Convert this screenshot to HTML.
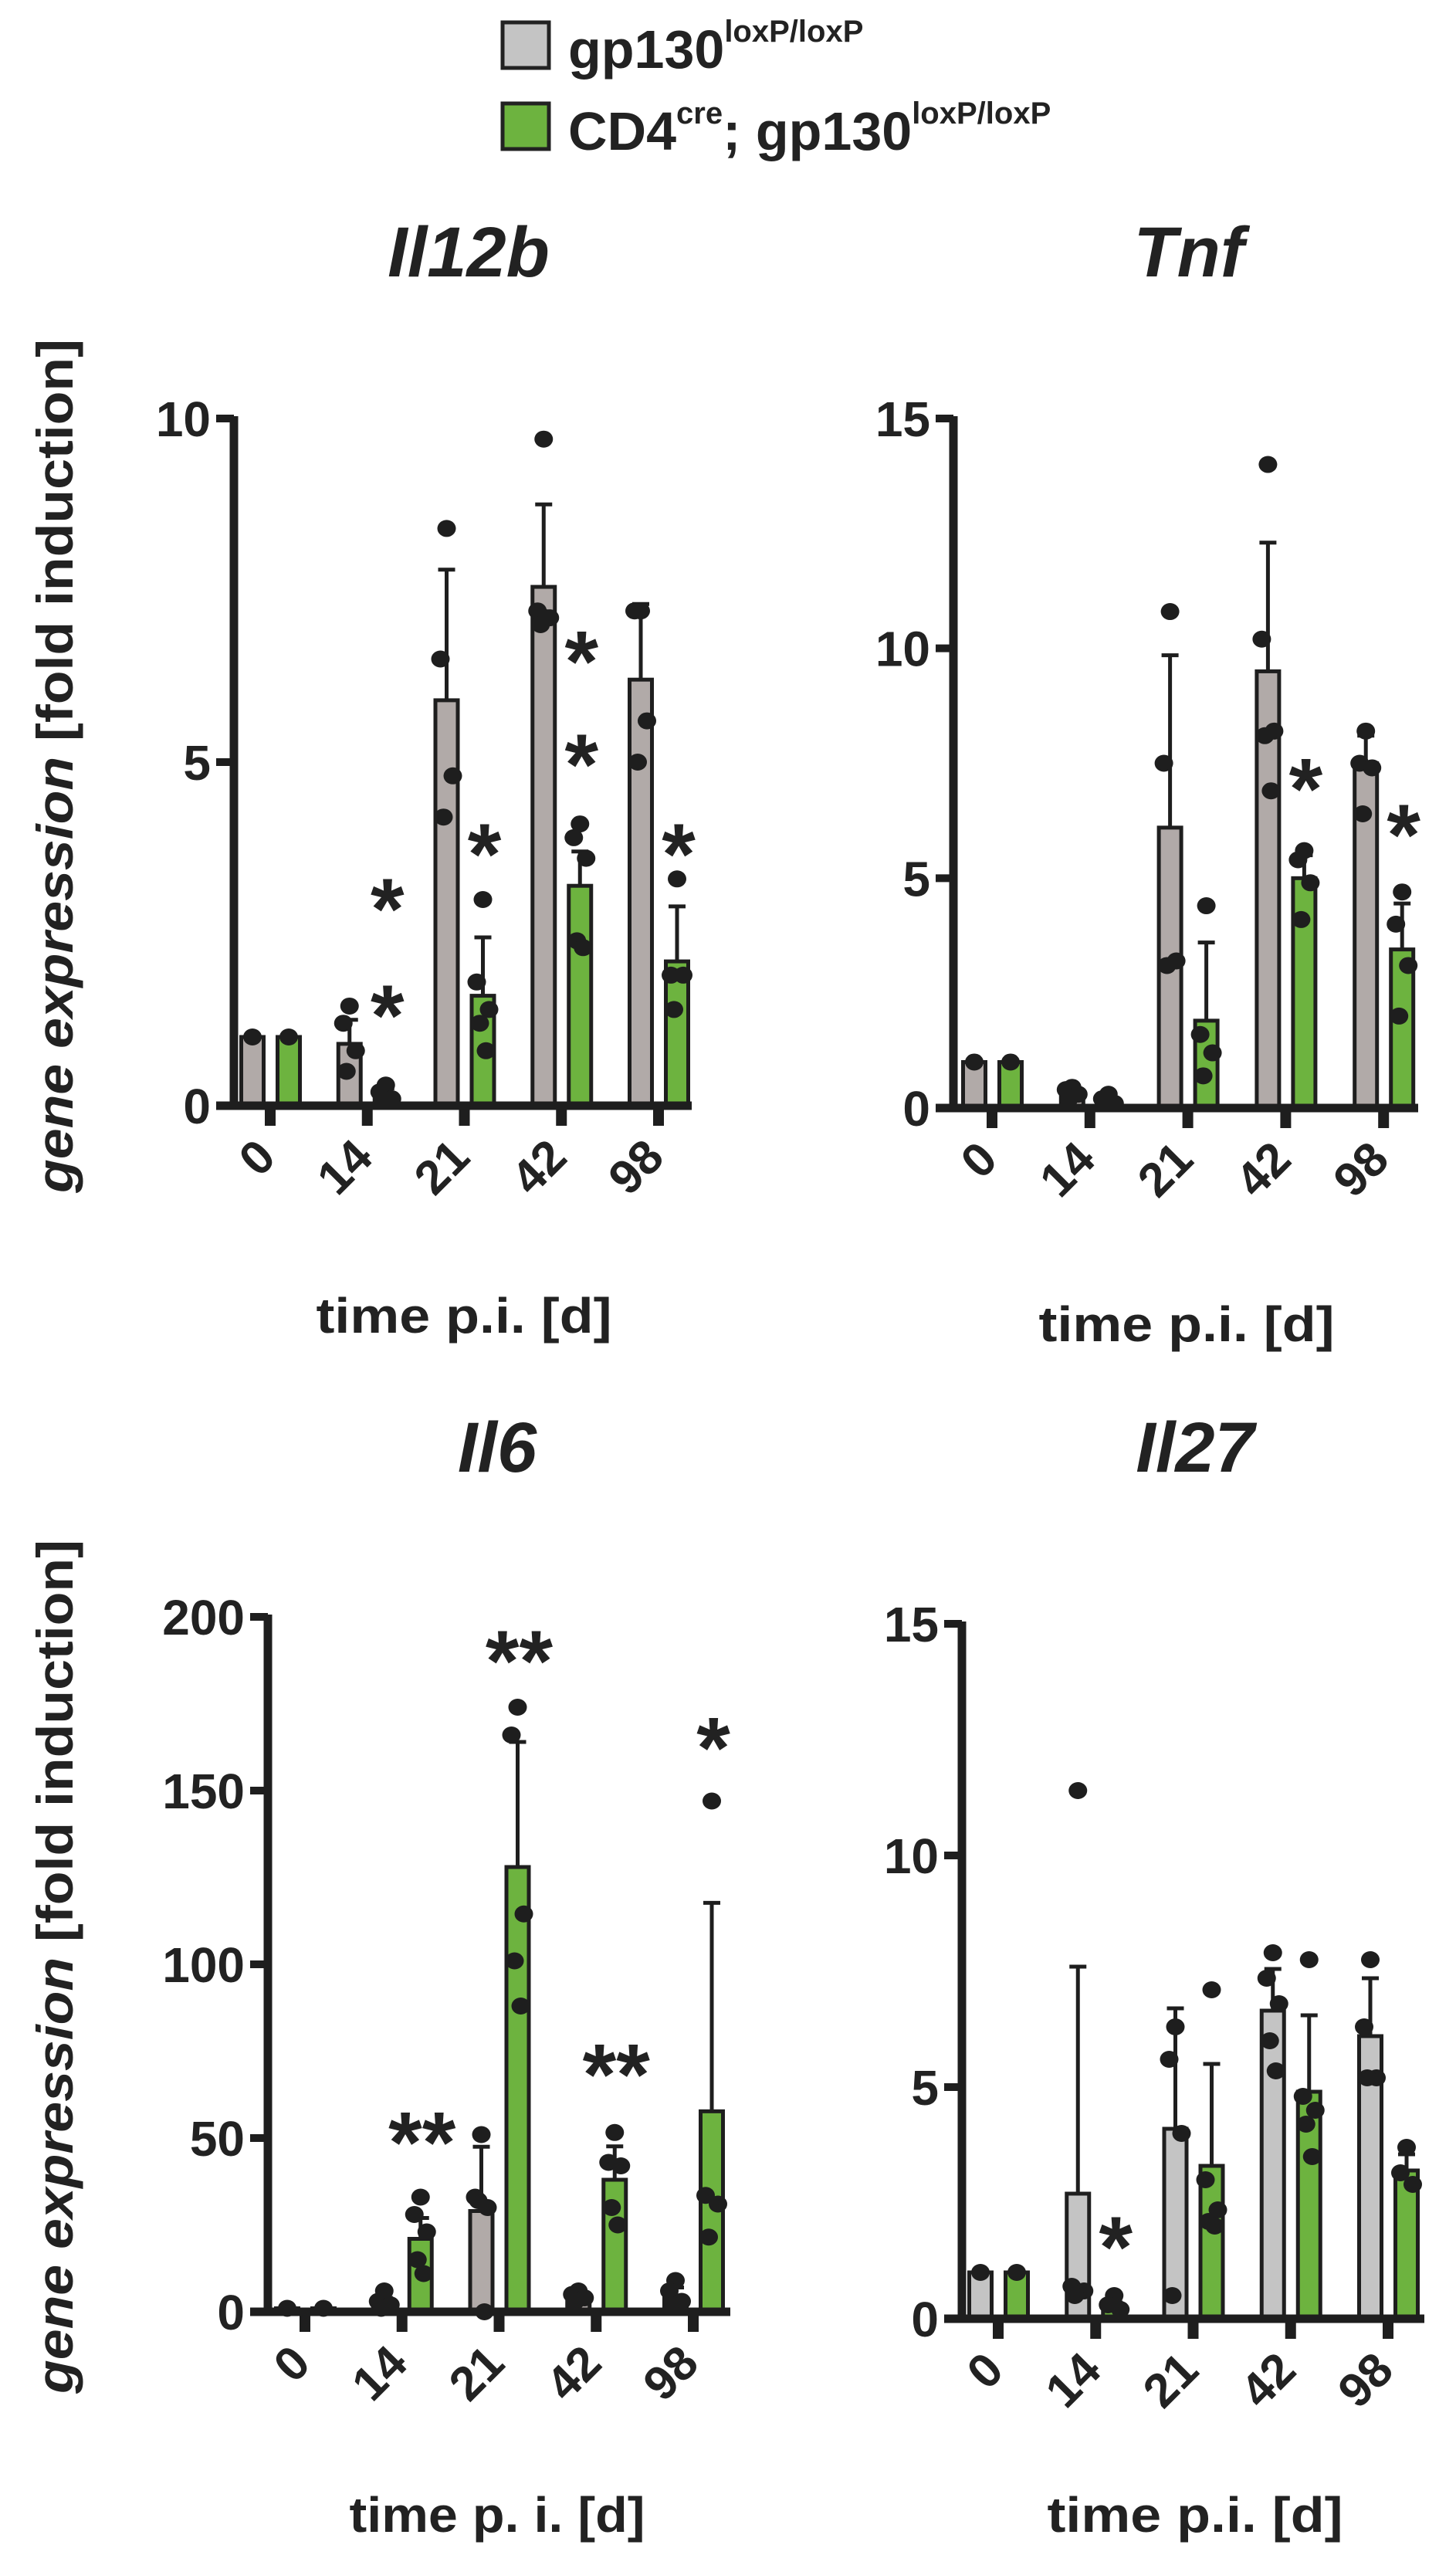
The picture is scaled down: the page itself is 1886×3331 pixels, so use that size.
<!DOCTYPE html>
<html><head><meta charset="utf-8"><style>
html,body{margin:0;padding:0;background:#fff;}
svg{display:block;font-family:"Liberation Sans",Arial,sans-serif;font-weight:bold;}
</style></head><body>
<svg id="fig" width="1886" height="3331" viewBox="0 0 1886 3331">
<g>
<rect x="651" y="29" width="60" height="59" fill="#c4c4c4" stroke="#222" stroke-width="5"/>
<text x="736" y="88" font-size="70" fill="#222">gp130<tspan font-size="40" dy="-34">loxP/loxP</tspan></text>
<rect x="651" y="134" width="60" height="59" fill="#6db33f" stroke="#222" stroke-width="5"/>
<text x="736" y="194" font-size="70" fill="#222">CD4<tspan font-size="40" dy="-34">cre</tspan><tspan dy="34">; gp130</tspan><tspan font-size="40" dy="-34">loxP/loxP</tspan></text>
</g>
</svg>
<script>
const categories = ["0","14","21","42","98"];

const il12bWtMean = [1.0, 0.9, 5.9, 7.55, 6.2];
const il12bWtErr  = [0, 0.35, 1.9, 1.2, 1.1];
const il12bWtPts  = [[1.0],[1.45,1.2,0.8,0.5],[8.4,6.5,4.8,4.2],[9.7,7.2,7.1,7.0,7.1],[7.2,7.2,5.6,5.0]];
const il12bKoMean = [1.0, 0.15, 1.6, 3.2, 2.1];
const il12bKoErr  = [0, 0.1, 0.85, 0.5, 0.8];
const il12bKoPts  = [[1.0],[0.3,0.2,0.1,0.1],[3.0,1.8,1.4,1.2,0.8],[4.1,3.9,3.6,2.4,2.3],[3.3,1.9,1.9,1.4]];
const il12bStars  = [[1,3.1,"*"],[1,1.55,"*"],[2,3.9,"*"],[3,6.7,"*"],[3,5.2,"*"],[4,3.9,"*"]];

const tnfWtMean = [1.0, 0.3, 6.1, 9.5, 7.5];
const tnfWtErr  = [0, 0.15, 3.75, 2.8, 0.6];
const tnfWtPts  = [[1.0],[0.45,0.4,0.3,0.2],[10.8,7.5,3.2,3.1],[14.0,10.2,8.2,8.1,6.9],[8.2,7.5,7.4,6.4]];
const tnfKoMean = [1.0, 0.15, 1.9, 5.0, 3.45];
const tnfKoErr  = [0, 0.1, 1.7, 0.5, 1.0];
const tnfKoPts  = [[1.0],[0.3,0.2,0.1],[4.4,1.6,1.2,0.7],[5.6,5.4,4.9,4.1],[4.7,4.0,3.1,2.0]];
const tnfStars  = [[3,7.3,"*"],[4,6.3,"*"]];

const il6WtMean = [1, 2, 29, 4, 4];
const il6WtErr  = [0, 2, 18.5, 1.5, 3];
const il6WtPts  = [[1],[6,3,2,1],[51,33,30,32,0],[6,5,4,3],[9,6,3,2]];
const il6KoMean = [1, 21, 128, 38, 57.7];
const il6KoErr  = [0, 6, 36, 9.6, 60];
const il6KoPts  = [[1],[33,28,23,15,11],[174,166,114.5,101,88],[51.6,43,42,30,25],[147,33.5,31,21.5]];
const il6Stars  = [[1,53.5,"**"],[2,192,"**"],[3,73,"**"],[4,167,"*"]];

const il27WtMean = [1.0, 2.7, 4.1, 6.65, 6.1];
const il27WtErr  = [0, 4.9, 2.6, 0.9, 1.25];
const il27WtPts  = [[1.0],[11.4,0.7,0.6,0.5],[6.3,5.6,4.0,0.5],[7.9,7.35,6.8,6.0,5.35],[7.75,6.3,5.2,5.2]];
const il27KoMean = [1.0, 0.2, 3.3, 4.9, 3.2];
const il27KoErr  = [0, 0.15, 2.2, 1.65, 0.35];
const il27KoPts  = [[1.0],[0.5,0.3,0.2],[7.1,3.0,2.35,2.1,2.0],[7.75,4.8,4.5,4.2,3.5],[3.7,3.15,2.9]];
const il27Stars  = [[1,1.9,"*"]];

const il12bTicks = [0,5,10];
const tnfTicks = [0,5,10,15];
const il6Ticks = [0,50,100,150,200];
const il27Ticks = [0,5,10,15];

const NS = "http://www.w3.org/2000/svg";
const svg = document.getElementById("fig");
function mk(tag, attrs, parent){
  const e = document.createElementNS(NS, tag);
  for (const k in attrs) e.setAttribute(k, attrs[k]);
  (parent||svg).appendChild(e);
  return e;
}
const GREEN = "#6db33f", INK = "#1e1e1e";
const jit = [0,-8,8,-4,4,-10];

function panel(cfg){
  const g = mk("g", {});
  
  
  const maxV = cfg.ticks[cfg.ticks.length-1];
  const y = v => cfg.y0 - (v / maxV) * (cfg.y0 - cfg.yTop);
  const xc = i => cfg.first + i * cfg.step;
  const t = mk("text", {x: cfg.titleX, y: cfg.titleY, "font-size": 92, "font-style": "italic", "text-anchor": "middle", fill: "#222"}, g);
  t.textContent = cfg.title;
  
  
  const series = [
    {mean: cfg.wtMean, err: cfg.wtErr, pts: cfg.wtPts, fill: cfg.grey, dx: -23, key: "wt"},
    {mean: cfg.koMean, err: cfg.koErr, pts: cfg.koPts, fill: GREEN, dx: 24, key: "ko"}
  ];
  const bw = 29;
  series.forEach(s => {
    s.mean.forEach((m, i) => {
      const cx = xc(i) + s.dx;
      if (s.err[i] > 0) {
        const ln = mk("line", {x1: cx, x2: cx, y1: y(m), y2: y(m + s.err[i]), stroke: INK, "stroke-width": 5}, g);
        
        
        const cap = mk("line", {x1: cx-11, x2: cx+11, y1: y(m + s.err[i]), y2: y(m + s.err[i]), stroke: INK, "stroke-width": 5}, g);
        
        
      }
      const r = mk("rect", {x: cx - bw/2, y: y(m), width: bw, height: cfg.y0 - y(m), fill: s.fill, stroke: INK, "stroke-width": 5}, g);
      
      
    });
  });
  series.forEach(s => {
    s.pts.forEach((arr, i) => {
      arr.forEach((v, j) => {
        const c = mk("ellipse", {cx: xc(i) + s.dx + jit[j % jit.length], cy: y(v), rx: 12, ry: 11, fill: INK}, g);
        
        
      });
    });
  });
  cfg.stars.forEach(st => {
    const tx = mk("text", {x: xc(st[0]) + 26, y: y(st[1]) + 60, "font-size": 112, "text-anchor": "middle", fill: "#222"}, g);
    tx.textContent = st[2];
    
    
  });
  const ya = mk("line", {x1: cfg.axisX, x2: cfg.axisX, y1: cfg.yTop - 3, y2: cfg.y0 + 5, stroke: INK, "stroke-width": 11}, g);
  
  
  const xa = mk("line", {x1: cfg.axisX - 23, x2: cfg.xEnd, y1: cfg.y0, y2: cfg.y0, stroke: INK, "stroke-width": 11}, g);
  
  
  cfg.ticks.forEach(v => {
    const tk = mk("line", {x1: cfg.axisX - 23, x2: cfg.axisX, y1: y(v), y2: y(v), stroke: INK, "stroke-width": 10}, g);
    
    
    const tl = mk("text", {x: cfg.axisX - 30, y: y(v) + 23, "font-size": 64, "text-anchor": "end", fill: "#222"}, g);
    tl.textContent = String(v);
    
    
  });
  categories.forEach((c, i) => {
    const tk = mk("line", {x1: xc(i), x2: xc(i), y1: cfg.y0, y2: cfg.y0 + 26, stroke: INK, "stroke-width": 14}, g);
    
    
    const lx = xc(i) + 10, ly = cfg.y0 + 70;
    const tl = mk("text", {x: lx, y: ly, "font-size": 62, "text-anchor": "end", fill: "#222", transform: "rotate(-45 " + lx + " " + ly + ")"}, g);
    tl.textContent = c;
    
    
  });
  const xt = mk("text", {x: cfg.xTitleX, y: cfg.xTitleY, "font-size": 64, "text-anchor": "middle", fill: "#222", textLength: 383, lengthAdjust: "spacingAndGlyphs"}, g);
  xt.textContent = cfg.xTitle;
  
  
}

panel({name:"il12b", title:"Il12b", titleX:607, titleY:358, axisX:303, y0:1432, yTop:542, ticks:il12bTicks, first:350, step:125.75, xEnd:896,
  wtMean:il12bWtMean, wtErr:il12bWtErr, wtPts:il12bWtPts, koMean:il12bKoMean, koErr:il12bKoErr, koPts:il12bKoPts, stars:il12bStars,
  grey:"#b1aaa8", xTitle:"time p.i. [d]", xTitleX:601, xTitleY:1726});
panel({name:"tnf", title:"Tnf", titleX:1540, titleY:358, axisX:1235, y0:1435, yTop:542, ticks:tnfTicks, first:1285, step:126.8, xEnd:1837,
  wtMean:tnfWtMean, wtErr:tnfWtErr, wtPts:tnfWtPts, koMean:tnfKoMean, koErr:tnfKoErr, koPts:tnfKoPts, stars:tnfStars,
  grey:"#b1aaa8", xTitle:"time p.i. [d]", xTitleX:1537, xTitleY:1737});
panel({name:"il6", title:"Il6", titleX:644, titleY:1906, axisX:347, y0:2994, yTop:2094, ticks:il6Ticks, first:395, step:125.75, xEnd:946,
  wtMean:il6WtMean, wtErr:il6WtErr, wtPts:il6WtPts, koMean:il6KoMean, koErr:il6KoErr, koPts:il6KoPts, stars:il6Stars,
  grey:"#b1aaa8", xTitle:"time p. i. [d]", xTitleX:644, xTitleY:3279});
panel({name:"il27", title:"Il27", titleX:1548, titleY:1906, axisX:1246, y0:3003, yTop:2103, ticks:il27Ticks, first:1293, step:126.25, xEnd:1845,
  wtMean:il27WtMean, wtErr:il27WtErr, wtPts:il27WtPts, koMean:il27KoMean, koErr:il27KoErr, koPts:il27KoPts, stars:il27Stars,
  grey:"#c4c4c4", xTitle:"time p.i. [d]", xTitleX:1548, xTitleY:3279});

[[992,"y-axis-title-top"],[2547,"y-axis-title-bottom"]].forEach(p => {
  const t = mk("text", {x: 72, y: p[0], "font-size": 66, "text-anchor": "middle", fill: "#222", transform: "rotate(-90 72 " + p[0] + ")", dy: 22, textLength: 1106, lengthAdjust: "spacingAndGlyphs"});
  
  
  const a = document.createElementNS(NS, "tspan"); a.setAttribute("font-style","italic"); a.textContent = "gene expression";
  const b = document.createElementNS(NS, "tspan"); b.textContent = " [fold induction]";
  t.appendChild(a); t.appendChild(b);
});
</script>
</body></html>
